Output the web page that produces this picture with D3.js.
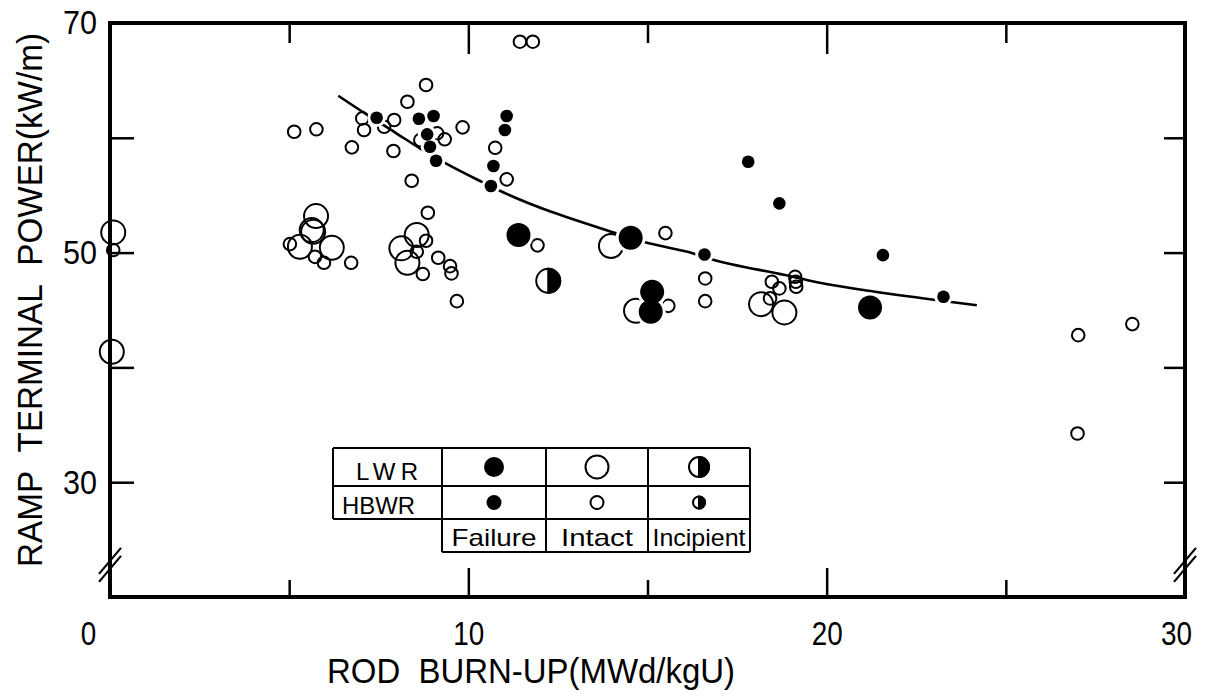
<!DOCTYPE html>
<html>
<head>
<meta charset="utf-8">
<script src="https://cdn.jsdelivr.net/npm/d3@7"></script>
<style>
  html, body { margin: 0; padding: 0; background: #fff; }
  svg { display: block; }
  text { font-family: "Liberation Sans", Arial, sans-serif; fill: #000; }
</style>
</head>
<body>
<svg id="chart" width="1209" height="696"></svg>
<script>
// Rod burn-up (MWd/kgU) vs. ramp terminal power (kW/m)

// LWR rods
const lwrFailureBurnup  = [11.40, 14.53, 15.13, 15.09, 21.21];
const lwrFailurePower   = [51.53, 51.29, 46.58, 44.84, 45.22];

const lwrIntactBurnup   = [0.09, 0.05, 5.75, 5.63, 5.67, 5.30, 6.19, 8.56, 8.13, 8.30, 13.98, 14.68, 18.17, 18.82];
const lwrIntactPower    = [51.76, 41.36, 53.18, 51.96, 51.81, 50.51, 50.42, 51.53, 50.37, 49.11, 50.57, 44.93, 45.51, 44.79];

const lwrIncipientBurnup = [12.23];
const lwrIncipientPower  = [47.54];

// HBWR rods
const hbwrFailureBurnup = [7.44, 8.62, 9.03, 8.85, 8.93, 9.10, 11.07, 11.02, 10.70, 10.63, 16.59, 17.81, 18.68, 21.57, 23.26];
const hbwrFailurePower  = [61.75, 61.66, 61.90, 60.30, 59.22, 58.00, 61.90, 60.68, 57.54, 55.80, 49.84, 57.91, 54.29, 49.78, 46.15];

const hbwrIntactBurnup  = [5.14, 5.76, 7.04, 7.09, 7.65, 7.93, 8.30, 8.82, 6.75, 7.91, 8.66, 9.13, 9.34, 9.84, 10.75, 11.07,
                           8.42, 8.87, 11.44, 11.80, 5.02, 5.72, 5.97, 6.73, 8.82, 8.56, 9.16, 8.73, 9.49, 9.53, 9.68,
                           11.93, 15.50, 16.61, 16.61, 15.58, 18.47, 18.68, 19.12, 19.14, 19.15, 18.42, 27.02, 28.53, 27.00, 0.09];
const hbwrIntactPower   = [60.53, 60.74, 61.69, 60.68, 60.96, 61.55, 63.14, 64.60, 59.17, 58.85, 59.80, 60.39, 59.87, 60.91, 59.13, 56.38,
                           56.26, 53.47, 68.37, 68.37, 50.74, 49.63, 49.11, 49.11, 51.03, 50.07, 49.55, 48.13, 48.82, 48.19, 45.77,
                           50.63, 51.70, 47.75, 45.77, 45.36, 47.46, 46.88, 47.89, 47.46, 47.02, 46.01, 42.81, 43.77, 34.24, 50.22];

// Failure threshold curve
const trendBurnup = [6.37, 7.26, 7.95, 8.65, 9.32, 10.37, 10.88, 14.14, 14.88, 16.28, 16.79, 18.84, 19.47, 22.93, 24.19];
const trendPower  = [63.66, 61.83, 60.48, 59.08, 57.86, 56.17, 55.39, 51.67, 50.94, 49.93, 49.43, 48.04, 47.60, 45.92, 45.42];

// Axis ticks and labels
const xLabelTicks = [0, 10, 20, 30];
const xMajorTicks = [10, 20];
const xMinorTicks = [5, 15, 25];
const yTicks      = [30, 40, 50, 60];
const yLabelTicks = [30, 50, 70];

// Legend
const legendRows = ["LWR", "HBWR"];
const legendCols = ["Failure", "Intact", "Incipient"];

const zip = (a, b) => a.map((v, i) => ({ x: v, y: b[i] }));

const svg = d3.select("#chart");
const plotLeft = 110, plotRight = 1185, plotTop = 23, plotBottom = 597;

const x = d3.scaleLinear().domain([0, 30]).range([plotLeft, plotRight]);
const y = d3.scaleLinear().domain([20, 70]).range([plotBottom, plotTop]);

const R_LWR = 12, R_HBWR = 6.3;

// ---- ticks (inward) ----
function tickAxis(axis, transform, values, size) {
  const g = svg.append("g").attr("transform", transform)
    .call(axis.tickValues(values).tickSize(size).tickFormat(""));
  g.select(".domain").remove();
  g.selectAll(".tick line").attr("stroke", "#000").attr("stroke-width", 2.5);
  return g;
}
tickAxis(d3.axisBottom(x), `translate(0,${plotBottom})`, xMinorTicks, -17);
tickAxis(d3.axisBottom(x), `translate(0,${plotBottom})`, xMajorTicks, -29);
tickAxis(d3.axisTop(x), `translate(0,${plotTop})`, xMinorTicks, -20);
tickAxis(d3.axisTop(x), `translate(0,${plotTop})`, xMajorTicks, -31);
tickAxis(d3.axisLeft(y), `translate(${plotLeft},0)`, yTicks, -24);
tickAxis(d3.axisRight(y), `translate(${plotRight},0)`, yTicks, -21);

// ---- tick labels ----
const xl = svg.append("g").attr("transform", `translate(0,${plotBottom})`)
  .call(d3.axisBottom(x).tickValues(xLabelTicks).tickSize(0).tickPadding(0).tickFormat(d3.format("d")));
xl.select(".domain").remove();
xl.selectAll(".tick text")
  .attr("y", 48).attr("dy", 0)
  .attr("dx", (d, i) => i === 0 ? -22 : (i === xLabelTicks.length - 1 ? -9 : 0))
  .attr("font-size", 34)
  .attr("font-family", "Liberation Sans, Arial, sans-serif")
  .attr("textLength", d => String(d).length * 15.5)
  .attr("lengthAdjust", "spacingAndGlyphs");

const yl = svg.append("g").attr("transform", `translate(${plotLeft},0)`)
  .call(d3.axisLeft(y).tickValues(yLabelTicks).tickSize(0).tickPadding(13).tickFormat(d3.format("d")));
yl.select(".domain").remove();
yl.selectAll(".tick text")
  .attr("font-size", 34)
  .attr("font-family", "Liberation Sans, Arial, sans-serif")
  .attr("textLength", 34)
  .attr("lengthAdjust", "spacingAndGlyphs");

// ---- frame ----
svg.append("rect")
  .attr("x", plotLeft).attr("y", plotTop)
  .attr("width", plotRight - plotLeft).attr("height", plotBottom - plotTop)
  .attr("fill", "none").attr("stroke", "#000").attr("stroke-width", 4);

// axis break marks
[plotLeft, plotRight].forEach(px => {
  const yc = y(22.8);
  [-4, 4].forEach(off => {
    svg.append("line")
      .attr("x1", px - 11).attr("y1", yc + off + 13)
      .attr("x2", px + 11).attr("y2", yc + off - 13)
      .attr("stroke", "#000").attr("stroke-width", 2.2);
  });
});

// ---- axis titles ----
svg.append("text")
  .attr("x", 327).attr("y", 683)
  .attr("font-size", 35)
  .attr("textLength", 408).attr("lengthAdjust", "spacingAndGlyphs")
  .text("ROD\u00a0\u00a0BURN-UP(MWd/kgU)");

svg.append("text")
  .attr("transform", "translate(42,300) rotate(-90)")
  .attr("text-anchor", "middle")
  .attr("font-size", 35)
  .attr("textLength", 534).attr("lengthAdjust", "spacingAndGlyphs")
  .text("RAMP\u00a0\u00a0TERMINAL\u00a0\u00a0POWER(kW/m)");

// ---- trend curve ----
svg.append("path")
  .datum(zip(trendBurnup, trendPower))
  .attr("fill", "none").attr("stroke", "#000").attr("stroke-width", 2.6)
  .attr("d", d3.line().x(d => x(d.x)).y(d => y(d.y)).curve(d3.curveMonotoneX));

// ---- markers ----
const plot = svg.append("g");

function openCircles(data, r) {
  plot.append("g").selectAll("circle").data(data).join("circle")
    .attr("cx", d => x(d.x)).attr("cy", d => y(d.y)).attr("r", r)
    .attr("fill", "none").attr("stroke", "#000").attr("stroke-width", 2);
}
function filledCircles(data, r) {
  const g = plot.append("g");
  // white halo so the curve breaks around the mark
  g.selectAll("circle.halo").data(data).join("circle").attr("class", "halo")
    .attr("cx", d => x(d.x)).attr("cy", d => y(d.y)).attr("r", r + 3)
    .attr("fill", "#fff");
  g.selectAll("circle.mark").data(data).join("circle").attr("class", "mark")
    .attr("cx", d => x(d.x)).attr("cy", d => y(d.y)).attr("r", r)
    .attr("fill", "#000");
}
function halfCircle(g, cx, cy, r) {
  g.append("circle").attr("cx", cx).attr("cy", cy).attr("r", r)
    .attr("fill", "#fff").attr("stroke", "#000").attr("stroke-width", 2);
  g.append("path")
    .attr("d", `M${cx},${cy - r} A${r},${r} 0 0 1 ${cx},${cy + r} Z`)
    .attr("fill", "#000").attr("stroke", "#000").attr("stroke-width", 2);
}

openCircles(zip(hbwrIntactBurnup, hbwrIntactPower), R_HBWR);
openCircles(zip(lwrIntactBurnup, lwrIntactPower), R_LWR);
filledCircles(zip(hbwrFailureBurnup, hbwrFailurePower), R_HBWR);
filledCircles(zip(lwrFailureBurnup, lwrFailurePower), R_LWR);
zip(lwrIncipientBurnup, lwrIncipientPower).forEach(d => halfCircle(plot, x(d.x), y(d.y), R_LWR));

// ---- legend table ----
const lg = svg.append("g");
const colX = [442, 546, 648, 750];
const rowY = [448, 486, 519, 552];
const labL = 333;
const line = (x1, y1, x2, y2) => lg.append("line")
  .attr("x1", x1).attr("y1", y1).attr("x2", x2).attr("y2", y2)
  .attr("stroke", "#000").attr("stroke-width", 2);

// row-name block
line(labL, rowY[0], colX[0], rowY[0]);
line(labL, rowY[1], colX[0], rowY[1]);
line(labL, rowY[2], colX[0], rowY[2]);
line(labL, rowY[0], labL, rowY[2]);
// symbol grid
[0, 1, 2, 3].forEach(i => line(colX[0], rowY[i], colX[3], rowY[i]));
colX.forEach(cx => line(cx, rowY[0], cx, rowY[3]));

lg.append("text").attr("x", 387).attr("y", 480).attr("text-anchor", "middle")
  .attr("font-size", 24).attr("textLength", 62).attr("lengthAdjust", "spacing")
  .text(legendRows[0]);
lg.append("text").attr("x", 342).attr("y", 514)
  .attr("font-size", 24).attr("textLength", 73).attr("lengthAdjust", "spacingAndGlyphs")
  .text(legendRows[1]);
const colW = [85, 72, 93];
legendCols.forEach((t, i) => {
  lg.append("text").attr("x", (colX[i] + colX[i + 1]) / 2).attr("y", 546)
    .attr("text-anchor", "middle").attr("font-size", 24)
    .attr("textLength", colW[i]).attr("lengthAdjust", "spacingAndGlyphs")
    .text(t);
});

const cc = [0, 1, 2].map(i => (colX[i] + colX[i + 1]) / 2);
const r1 = (rowY[0] + rowY[1]) / 2, r2 = (rowY[1] + rowY[2]) / 2;
lg.append("circle").attr("cx", cc[0]).attr("cy", r1).attr("r", 10).attr("fill", "#000");
lg.append("circle").attr("cx", cc[1]).attr("cy", r1).attr("r", 11.5)
  .attr("fill", "none").attr("stroke", "#000").attr("stroke-width", 2);
halfCircle(lg, cc[2], r1, 10);
lg.append("circle").attr("cx", cc[0]).attr("cy", r2).attr("r", 7.5).attr("fill", "#000");
lg.append("circle").attr("cx", cc[1]).attr("cy", r2).attr("r", 6.5)
  .attr("fill", "none").attr("stroke", "#000").attr("stroke-width", 2);
halfCircle(lg, cc[2], r2, 6);
</script>
</body>
</html>
